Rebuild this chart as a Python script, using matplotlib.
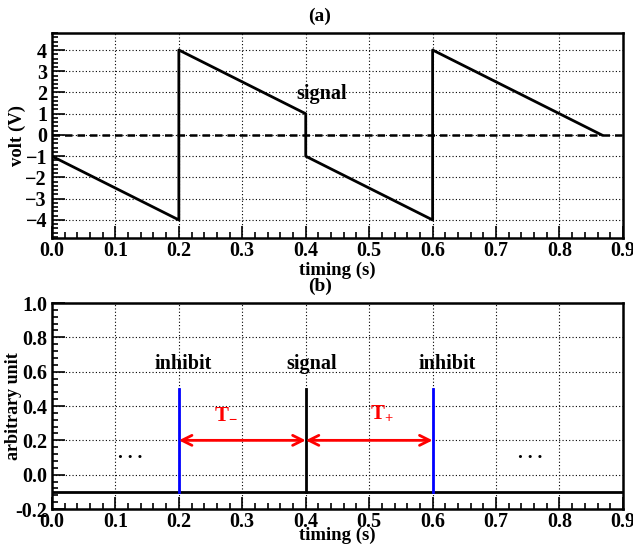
import matplotlib
matplotlib.use("Agg")
import matplotlib.pyplot as plt
from matplotlib.ticker import MultipleLocator, FormatStrFormatter

plt.rcParams['font.family'] = ['Liberation Serif', 'DejaVu Serif']
plt.rcParams['font.weight'] = 'bold'
plt.rcParams['mathtext.fontset'] = 'custom'
plt.rcParams['mathtext.rm'] = 'Liberation Serif:bold'
plt.rcParams['mathtext.bf'] = 'Liberation Serif:bold'
plt.rcParams['mathtext.default'] = 'bf'

# Panel (a) data: signal waveform
sig_t = [0.0, 0.2, 0.2, 0.4, 0.4, 0.6, 0.6, 0.8667]
sig_v = [-1.0, -4.0, 4.0, 1.0, -1.0, -4.0, 4.0, 0.0]

# Panel (b) data
baseline = -0.1
inhibit_t = [0.2, 0.6]
signal_t = [0.4]
pulse_top = 0.5
arrow_y = 0.2
arrow_spans = [(0.2, 0.4), (0.4, 0.6)]
arrow_labels = [r'T$_{-}$', r'T$_{+}$']
pulse_labels = ['inhibit', 'signal', 'inhibit']

fig = plt.figure(figsize=(6.33, 5.44), dpi=100)
axa = fig.add_axes([0.0821, 0.5625, 0.902, 0.3768])
axb = fig.add_axes([0.0821, 0.0643, 0.902, 0.3787])

def style(ax):
    for s in ax.spines.values():
        s.set_linewidth(1.8)
    ax.tick_params(which='both', direction='in', top=False, right=False,
                   labelsize=14.5, width=1.2)
    ax.tick_params(which='major', length=9)
    ax.tick_params(which='minor', length=4.5)
    ax.tick_params(axis='x', pad=2.5)
    ax.grid(True, which='major', linestyle=(0, (1, 2)), color='black', linewidth=0.8)
    ax.set_axisbelow(True)
    for lab in ax.get_xticklabels() + ax.get_yticklabels():
        lab.set_fontweight('bold')

# Panel (a)
axa.plot(sig_t, sig_v, color='black', linewidth=2)
axa.plot([0, 0.9], [0, 0], color='black', linewidth=1.8, linestyle=(0, (3, 2)))
axa.set_xlim(0, 0.9)
axa.set_ylim(-4.85, 4.8)
axa.xaxis.set_major_locator(MultipleLocator(0.1))
axa.xaxis.set_minor_locator(MultipleLocator(0.02))
axa.yaxis.set_major_locator(MultipleLocator(1))
axa.yaxis.set_minor_locator(MultipleLocator(0.2))
axa.xaxis.set_major_formatter(FormatStrFormatter('%.1f'))
style(axa)
axa.set_ylabel('volt (V)', fontsize=13.5, fontweight='bold')
axa.yaxis.set_label_coords(-0.046, 0.5)
axa.set_xlabel('timing (s)', fontsize=13.5, fontweight='bold', labelpad=0)
axa.set_title('(a)', fontsize=14, fontweight='bold', pad=9, x=0.469)
axa.text(0.425, 1.45, 'signal', ha='center', va='bottom', fontsize=14.5, fontweight='bold')

# Panel (b)
axb.plot([0, 0.9], [baseline, baseline], color='black', linewidth=2)
for t in inhibit_t:
    axb.plot([t, t], [baseline, pulse_top], color='blue', linewidth=2)
for t in signal_t:
    axb.plot([t, t], [baseline, pulse_top], color='black', linewidth=2)
for (x0, x1), lab, lx in zip(arrow_spans, arrow_labels, [0.274, 0.52]):
    axb.annotate('', xy=(x0, arrow_y), xytext=(x1, arrow_y),
                 arrowprops=dict(arrowstyle='<->', color='red', lw=2,
                                 shrinkA=0, shrinkB=0, mutation_scale=18))
    axb.text(lx, 0.3, lab, color='red', ha='center', va='bottom',
             fontsize=15, fontweight='bold')
for lx, lab in zip([0.207, 0.409, 0.623], pulse_labels):
    axb.text(lx, 0.585, lab, ha='center', va='bottom', fontsize=14.5, fontweight='bold')
for lx in [0.123, 0.754]:
    axb.text(lx, 0.075, '. . .', ha='center', va='bottom', fontsize=14, fontweight='bold')
axb.set_xlim(0, 0.9)
axb.set_ylim(-0.2, 1.0)
axb.xaxis.set_major_locator(MultipleLocator(0.1))
axb.xaxis.set_minor_locator(MultipleLocator(0.02))
axb.yaxis.set_major_locator(MultipleLocator(0.2))
axb.yaxis.set_minor_locator(MultipleLocator(0.04))
axb.xaxis.set_major_formatter(FormatStrFormatter('%.1f'))
axb.yaxis.set_major_formatter(FormatStrFormatter('%.1f'))
style(axb)
axb.set_ylabel('arbitrary unit', fontsize=13, fontweight='bold')
axb.yaxis.set_label_coords(-0.052, 0.5)
axb.set_xlabel('timing (s)', fontsize=13.5, fontweight='bold', labelpad=-4)
axb.set_title('(b)', fontsize=14, fontweight='bold', pad=9, x=0.469)

fig.savefig('out.png', dpi=100)
